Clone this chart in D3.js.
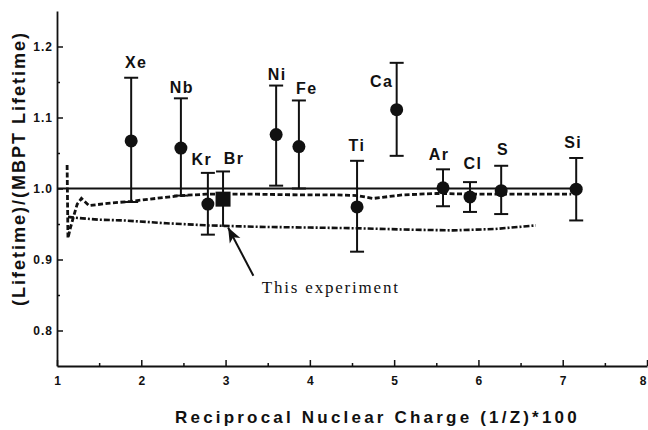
<!DOCTYPE html>
<html>
<head>
<meta charset="utf-8">
<script src="https://cdn.jsdelivr.net/npm/d3@7"></script>
<style>
  body { margin: 0; background: #fff; }
  svg { display: block; }
</style>
</head>
<body>
<div class="canvas"></div>
<script>
const WIDTH = 648;
const HEIGHT = 430;

// measured points (ratio of lifetime to MBPT lifetime)
const elements = ['Xe', 'Nb', 'Kr', 'Ni', 'Fe', 'Ti', 'Ca', 'Ar', 'Cl', 'S', 'Si'];
const recipZ = [1.88, 2.47, 2.79, 3.60, 3.87, 4.56, 5.03, 5.58, 5.90, 6.27, 7.16];
const ratio = [1.067, 1.057, 0.978, 1.076, 1.059, 0.974, 1.111, 1.001, 0.988, 0.997, 0.999];
const errHigh = [1.156, 1.127, 1.022, 1.145, 1.124, 1.039, 1.177, 1.027, 1.009, 1.032, 1.043];
const errLow = [0.981, 0.990, 0.935, 1.004, 1.000, 0.911, 1.046, 0.975, 0.967, 0.964, 0.955];

// this experiment (Br)
const brLabel = 'Br';
const brX = 2.97;
const brY = 0.985;
const brHigh = 1.024;
const brLow = 0.946;

// theory curves
const refX = [1.0, 7.18];
const refY = [1.0, 1.0];
const dashX = [1.12, 1.13, 1.16, 1.20, 1.24, 1.29, 1.38, 1.60, 1.88, 2.17, 2.47, 2.77, 3.36, 3.88, 4.30, 4.56, 4.75, 5.10, 5.50, 6.00, 6.50, 7.10];
const dashY = [1.033, 0.930, 0.945, 0.962, 0.978, 0.986, 0.976, 0.979, 0.982, 0.986, 0.990, 0.992, 0.992, 0.991, 0.991, 0.990, 0.986, 0.991, 0.993, 0.992, 0.992, 0.992];
const dotDashX = [1.13, 1.20, 1.50, 1.80, 2.30, 2.80, 3.40, 4.00, 4.56, 5.20, 5.70, 6.20, 6.68];
const dotDashY = [0.960, 0.959, 0.956, 0.955, 0.951, 0.948, 0.946, 0.945, 0.944, 0.942, 0.941, 0.943, 0.948];

// ticks
const xTicks = [1, 2, 3, 4, 5, 6, 7, 8];
const xMinorTicks = [1.5, 2.5, 3.5, 4.5, 5.5, 6.5, 7.5];
const yTicks = [0.8, 0.9, 1.0, 1.1, 1.2];
const yMinorTicks = [0.85, 0.95, 1.05, 1.15];

// label nudges, pixels from top of the error bar
const labelDx = [5, 1, -6, 1, 8, 0, -15, -4, 3, 2, -3];
const labelDy = [-16, -11, -14, -12, -12, -16, 18, -15, -19, -17, -16];

const svg = d3.select('.canvas')
  .append('svg')
    .attr('width', WIDTH)
    .attr('height', HEIGHT);

const x = d3.scaleLinear().domain([1, 8]).range([57, 647]);
const y = d3.scaleLinear().domain([0.75, 1.25]).range([366, 11]);

// axes, ticks pointing inward
const xAxisGroup = svg.append('g').attr('transform', `translate(0,${y(0.75)})`);
xAxisGroup.call(d3.axisBottom(x).tickValues(xTicks).tickFormat(d3.format('d'))
  .tickSizeInner(-6).tickSizeOuter(0).tickPadding(10));
// last label sits at the page edge, keep it inside
xAxisGroup.selectAll('.tick text').filter(d => d === 8)
  .attr('text-anchor', 'end')
  .attr('dx', -1);
svg.append('g').attr('transform', `translate(0,${y(0.75)})`)
  .call(d3.axisBottom(x).tickValues(xMinorTicks).tickFormat('').tickSizeInner(-3).tickSizeOuter(0))
  .select('.domain').remove();

const yAxisGroup = svg.append('g').attr('transform', `translate(${x(1)},0)`);
yAxisGroup.call(d3.axisLeft(y).tickValues(yTicks).tickFormat(d3.format('.1f'))
  .tickSizeInner(-6).tickSizeOuter(0).tickPadding(4));
yAxisGroup.selectAll('text').attr('letter-spacing', 1);
svg.append('g').attr('transform', `translate(${x(1)},0)`)
  .call(d3.axisLeft(y).tickValues(yMinorTicks).tickFormat('').tickSizeInner(-3).tickSizeOuter(0))
  .select('.domain').remove();

svg.selectAll('.domain').attr('stroke', '#111').attr('stroke-width', 1.8);
svg.selectAll('.tick line').attr('stroke', '#111').attr('stroke-width', 1.5);
svg.selectAll('.tick text')
  .attr('font-family', '"Liberation Sans", Arial, sans-serif')
  .attr('font-weight', 'bold')
  .attr('font-size', 12)
  .attr('fill', '#111');

// axis titles
svg.append('text')
  .attr('transform', 'translate(25,306) rotate(-90)')
  .attr('font-family', '"Liberation Sans", Arial, sans-serif')
  .attr('font-weight', 'bold')
  .attr('font-size', 18)
  .attr('letter-spacing', 2)
  .attr('fill', '#111')
  .text('(Lifetime)/(MBPT Lifetime)');

svg.append('text')
  .attr('x', 175)
  .attr('y', 423)
  .attr('font-family', '"Liberation Sans", Arial, sans-serif')
  .attr('font-weight', 'bold')
  .attr('font-size', 17)
  .attr('letter-spacing', 3.2)
  .attr('fill', '#111')
  .text('Reciprocal Nuclear Charge (1/Z)*100');

// theory curves
const line = d3.line().x(d => x(d[0])).y(d => y(d[1]));

svg.append('path')
  .datum(d3.zip(refX, refY))
  .attr('d', line)
  .attr('fill', 'none')
  .attr('stroke', '#111')
  .attr('stroke-width', 2);

svg.append('path')
  .datum(d3.zip(dashX, dashY))
  .attr('d', line)
  .attr('fill', 'none')
  .attr('stroke', '#111')
  .attr('stroke-width', 2.8)
  .attr('stroke-dasharray', '5,2.5');

svg.append('path')
  .datum(d3.zip(dotDashX, dotDashY))
  .attr('d', line)
  .attr('fill', 'none')
  .attr('stroke', '#111')
  .attr('stroke-width', 2.6)
  .attr('stroke-dasharray', '6,2,2,2');

// error bars and points
const points = elements.map((name, i) => ({
  name, x: recipZ[i], v: ratio[i], hi: errHigh[i], lo: errLow[i], dx: labelDx[i], dy: labelDy[i]
}));

const bars = svg.append('g').attr('stroke', '#111').attr('stroke-width', 2);
bars.selectAll('line.bar')
  .data(points)
  .enter().append('line')
    .attr('x1', d => x(d.x)).attr('x2', d => x(d.x))
    .attr('y1', d => y(d.hi)).attr('y2', d => y(d.lo));
bars.selectAll('line.top')
  .data(points)
  .enter().append('line')
    .attr('x1', d => x(d.x) - 7).attr('x2', d => x(d.x) + 7)
    .attr('y1', d => y(d.hi)).attr('y2', d => y(d.hi));
bars.selectAll('line.bottom')
  .data(points)
  .enter().append('line')
    .attr('x1', d => x(d.x) - 7).attr('x2', d => x(d.x) + 7)
    .attr('y1', d => y(d.lo)).attr('y2', d => y(d.lo));

svg.selectAll('circle.pt')
  .data(points)
  .enter().append('circle')
    .attr('cx', d => x(d.x))
    .attr('cy', d => y(d.v))
    .attr('r', 6.5)
    .attr('fill', '#111');

svg.selectAll('text.label')
  .data(points)
  .enter().append('text')
    .attr('x', d => x(d.x) + d.dx)
    .attr('y', d => y(d.hi) + d.dy + 6)
    .attr('text-anchor', 'middle')
    .attr('font-family', '"Liberation Sans", Arial, sans-serif')
    .attr('font-weight', 'bold')
    .attr('font-size', 16)
    .attr('letter-spacing', 1.5)
    .attr('fill', '#111')
    .text(d => d.name);

// Br, this experiment
bars.append('line')
  .attr('x1', x(brX)).attr('x2', x(brX))
  .attr('y1', y(brHigh)).attr('y2', y(brLow));
bars.append('line')
  .attr('x1', x(brX) - 7).attr('x2', x(brX) + 7)
  .attr('y1', y(brHigh)).attr('y2', y(brHigh));
svg.append('rect')
  .attr('x', x(brX) - 7.5)
  .attr('y', y(brY) - 7.5)
  .attr('width', 15)
  .attr('height', 15)
  .attr('fill', '#111');
svg.append('text')
  .attr('x', x(brX) + 11)
  .attr('y', y(brHigh) - 7)
  .attr('text-anchor', 'middle')
  .attr('font-family', '"Liberation Sans", Arial, sans-serif')
  .attr('font-weight', 'bold')
  .attr('font-size', 16)
  .attr('letter-spacing', 1.5)
  .attr('fill', '#111')
  .text(brLabel);

// arrow annotation
const arrowFrom = [3.33, 0.877];
const arrowTo = [3.03, 0.945];
const ax0 = x(arrowFrom[0]), ay0 = y(arrowFrom[1]);
const ax1 = x(arrowTo[0]), ay1 = y(arrowTo[1]);
svg.append('line')
  .attr('x1', ax0).attr('y1', ay0)
  .attr('x2', ax1).attr('y2', ay1)
  .attr('stroke', '#111')
  .attr('stroke-width', 2);
const ang = Math.atan2(ay1 - ay0, ax1 - ax0) * 180 / Math.PI;
svg.append('path')
  .attr('d', 'M0,0 L-15,-6 L-11,0 L-15,6 Z')
  .attr('transform', `translate(${ax1},${ay1}) rotate(${ang})`)
  .attr('fill', '#111');

svg.append('text')
  .attr('x', x(3.43))
  .attr('y', y(0.853))
  .attr('font-family', '"Liberation Serif", "Times New Roman", serif')
  .attr('font-size', 17)
  .attr('letter-spacing', 1.8)
  .attr('fill', '#111')
  .text('This experiment');
</script>
</body>
</html>
